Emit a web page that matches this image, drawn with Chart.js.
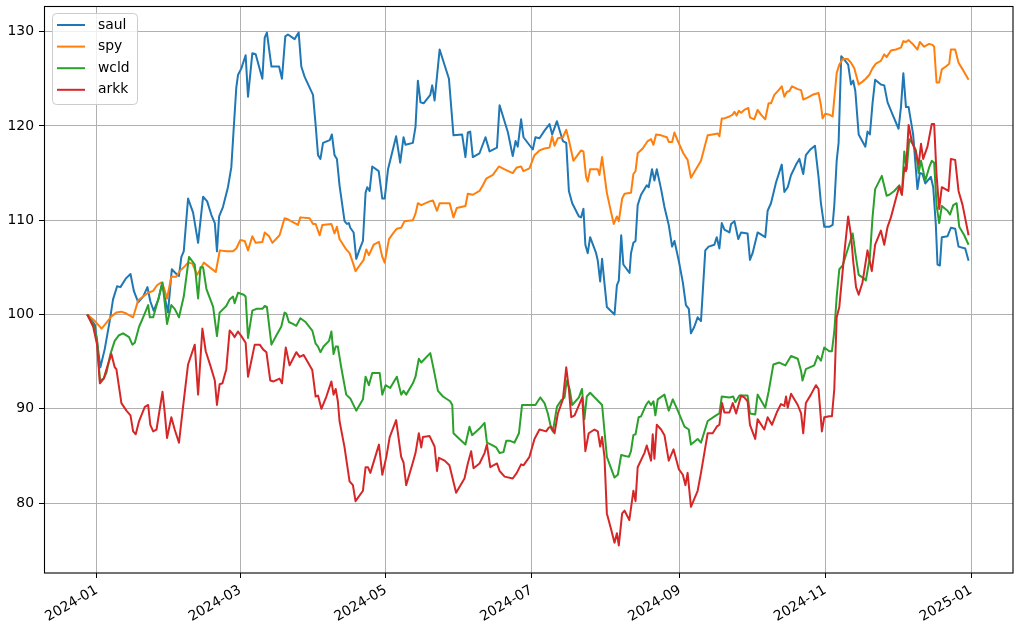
<!DOCTYPE html>
<html>
<head>
<meta charset="utf-8">
<script src="https://cdn.jsdelivr.net/npm/chart.js@4.4.1/dist/chart.umd.min.js"></script>
<style>
  html, body { margin: 0; padding: 0; background: #fff; }
  canvas { display: block; }
</style>
</head>
<body>
<canvas id="perfChart" width="1020" height="629"></canvas>
<script>
// x = days since 2024-01-01, y = value rebased to 100
const saul = [[-4,100.0],[-0.8,98.9],[1.5,94.4],[3.3,96.3],[5.4,99.3],[6.8,101.6],[8.5,103.0],[9.9,102.9],[12.1,103.8],[14.1,104.3],[15.5,102.5],[17.3,101.3],[19.4,101.9],[21.2,102.9],[22.4,101.4],[23.8,100.4],[25.8,101.6],[27.3,103.3],[28.4,101.9],[29.8,100.2],[31.4,104.8],[33.3,104.3],[34.4,104.1],[35.4,106.1],[36.4,106.7],[38.2,112.3],[40.3,110.8],[42.4,107.6],[44.5,112.5],[46.2,112.0],[47.9,110.6],[49.4,109.7],[50.3,106.7],[51.2,110.4],[52.8,111.4],[54.9,113.5],[56.3,115.6],[57.3,119.7],[58.4,124.1],[59.1,125.4],[60.5,126.1],[62.3,127.5],[63.3,123.1],[65.1,127.7],[66.5,127.6],[69.3,125.0],[70.3,129.4],[71.2,129.9],[73.1,126.3],[76.3,126.3],[77.5,125.0],[78.9,129.5],[80.0,129.7],[82.8,129.2],[83.5,129.5],[84.5,129.9],[85.6,126.3],[87.0,125.2],[90.5,123.3],[91.6,120.1],[92.6,116.9],[93.6,116.5],[94.7,118.2],[97.5,118.5],[98.4,119.1],[99.5,116.9],[100.5,116.5],[101.6,113.7],[103.7,109.9],[104.7,109.6],[105.5,109.7],[106.1,109.2],[107.5,108.7],[108.6,105.9],[110.0,106.9],[111.4,107.8],[112.5,112.9],[113.2,113.5],[114.2,113.1],[115.3,115.7],[118.0,115.2],[119.5,112.3],[120.5,112.3],[121.9,115.4],[125.3,118.9],[127.0,116.1],[128.4,118.8],[129.2,118.0],[132.3,118.2],[133.4,119.9],[134.4,124.8],[135.5,122.5],[136.8,122.4],[139.6,123.3],[140.4,124.3],[141.4,122.7],[143.5,128.1],[147.4,125.0],[149.3,119.0],[152.9,119.1],[154.3,116.7],[155.3,119.3],[156.3,119.4],[157.4,116.7],[160.2,117.1],[162.7,118.8],[164.4,117.3],[167.5,117.7],[168.6,122.2],[172.1,119.3],[174.1,116.8],[175.3,118.4],[176.2,117.8],[177.6,120.7],[178.6,118.8],[182.5,117.5],[183.6,118.8],[185.3,118.7],[187.4,119.5],[189.5,120.2],[190.6,119.1],[192.6,120.5],[194.0,119.3],[195.1,118.4],[196.5,118.2],[197.6,113.1],[199.0,111.8],[201.8,110.4],[202.7,110.3],[203.7,111.2],[204.5,107.4],[205.5,106.5],[206.5,108.2],[209.0,106.5],[209.7,105.7],[210.7,103.5],[211.5,105.9],[212.5,103.3],[213.5,100.8],[216.7,100.0],[217.7,103.1],[218.5,103.6],[219.5,108.4],[220.4,105.3],[223.0,104.4],[223.6,106.5],[224.6,107.6],[225.5,107.8],[226.4,111.6],[227.8,112.7],[230.2,113.7],[231.0,113.5],[232.4,115.4],[233.4,114.2],[234.4,115.4],[236.2,113.3],[237.6,111.4],[239.4,109.5],[240.8,107.2],[241.8,107.8],[243.6,105.7],[245.3,103.4],[246.6,101.0],[247.8,100.6],[248.7,98.0],[250.1,98.7],[251.5,99.7],[252.9,99.3],[254.7,106.8],[256.1,107.2],[258.5,107.4],[259.5,108.2],[260.6,107.0],[261.6,109.7],[262.7,109.0],[264.8,108.7],[265.5,109.6],[266.9,109.9],[268.5,108.0],[269.7,108.7],[272.4,108.6],[273.4,105.8],[274.5,106.5],[276.6,108.7],[279.8,108.2],[280.8,111.0],[282.2,111.8],[284.3,114.0],[286.7,115.9],[287.8,113.0],[289.2,113.5],[290.6,114.8],[292.7,115.9],[294.1,116.5],[295.7,114.9],[296.8,116.9],[298.7,117.5],[300.6,117.9],[302.1,114.6],[303.1,111.8],[304.5,109.3],[306.6,109.3],[308.0,109.5],[308.7,111.6],[309.7,116.3],[310.5,118.2],[311.6,127.4],[313.3,126.9],[314.5,126.5],[315.7,124.4],[316.6,124.8],[317.5,123.7],[318.9,119.1],[321.7,117.8],[322.6,119.4],[323.6,119.1],[324.7,122.4],[325.8,124.9],[328.2,124.4],[329.6,124.3],[331.0,122.5],[333.1,121.2],[335.6,119.7],[336.6,122.0],[337.6,125.6],[338.7,122.0],[339.8,122.0],[341.7,119.1],[343.5,113.3],[344.5,115.0],[345.6,114.9],[346.8,113.9],[349.1,114.6],[350.1,113.5],[351.2,109.5],[351.9,105.3],[352.9,105.2],[353.7,108.2],[356.1,108.3],[357.5,109.2],[359.3,109.1],[360.7,107.2],[363.5,107.0],[364.9,105.7]];

const spy = [[-4,100.0],[-0.8,99.3],[2.0,98.5],[4.0,99.1],[6.1,99.8],[8.2,100.2],[10.3,100.3],[12.4,100.1],[15.2,99.7],[17.3,101.5],[19.4,101.9],[21.5,102.3],[23.6,102.5],[25.2,103.1],[27.0,103.4],[28.0,102.9],[29.4,101.7],[31.2,104.0],[33.3,104.0],[34.7,104.6],[36.4,105.0],[38.2,105.5],[40.0,105.4],[42.0,104.2],[44.8,105.5],[47.3,105.0],[49.8,104.5],[51.5,106.8],[54.2,106.7],[57.0,106.7],[58.4,107.0],[60.1,107.9],[61.9,107.8],[63.3,106.8],[65.1,108.3],[66.5,107.6],[69.3,107.7],[70.3,108.7],[72.1,108.3],[73.5,107.6],[76.5,108.4],[78.6,110.2],[80.0,110.1],[84.2,109.5],[85.2,110.3],[89.1,110.2],[90.5,109.6],[91.6,109.6],[93.3,108.4],[94.4,109.5],[98.2,109.6],[99.5,108.6],[100.5,109.3],[101.6,108.0],[104.4,106.9],[105.8,106.5],[107.2,105.5],[108.3,104.6],[110.3,105.3],[111.7,105.8],[112.8,106.9],[113.9,106.3],[115.9,107.4],[118.1,107.7],[119.5,106.1],[120.5,105.5],[122.3,108.0],[124.0,108.6],[125.6,109.1],[127.4,109.2],[128.8,109.9],[132.3,110.0],[133.4,110.7],[134.4,111.8],[135.8,111.6],[139.3,112.0],[140.7,112.1],[142.4,111.0],[143.5,111.8],[147.7,111.8],[149.3,110.3],[150.7,111.3],[154.3,111.5],[155.3,112.8],[157.4,112.7],[160.2,113.1],[161.6,113.7],[163.0,114.4],[165.8,114.8],[168.3,115.7],[170.7,115.4],[174.1,115.0],[175.8,115.6],[177.6,115.7],[178.6,115.2],[181.1,115.5],[183.2,116.9],[185.3,117.4],[187.4,117.6],[189.5,117.7],[190.6,118.9],[191.6,117.9],[193.0,118.7],[195.1,118.8],[196.5,119.6],[197.6,118.5],[199.5,116.3],[202.7,117.4],[203.7,117.3],[204.8,114.6],[205.5,114.1],[206.5,115.4],[209.7,115.4],[210.4,114.8],[211.5,116.7],[213.5,112.9],[215.3,110.8],[216.4,109.6],[217.7,110.4],[218.5,109.9],[219.9,112.3],[220.9,112.8],[223.6,112.9],[224.6,114.9],[225.5,115.2],[226.4,117.1],[228.5,117.6],[230.6,118.4],[232.0,118.6],[233.0,118.0],[234.1,119.1],[236.2,119.0],[238.6,118.8],[239.4,118.3],[240.8,118.3],[241.8,119.3],[243.2,118.4],[245.5,117.1],[247.3,116.4],[248.7,114.5],[250.8,115.4],[252.9,116.3],[255.7,119.0],[257.8,119.1],[259.9,119.2],[260.6,118.9],[261.6,120.8],[262.7,120.8],[264.8,121.0],[266.2,121.2],[266.9,121.5],[267.8,121.1],[268.7,121.6],[269.7,121.4],[271.0,121.7],[272.7,121.9],[273.4,120.9],[275.2,120.7],[276.6,121.7],[278.0,121.2],[279.8,120.7],[281.2,122.4],[282.2,122.4],[283.6,123.3],[285.4,123.8],[286.7,124.2],[287.8,123.1],[288.8,123.6],[289.9,123.7],[291.0,124.2],[293.4,123.9],[294.8,123.8],[295.7,122.8],[297.5,123.0],[299.6,123.3],[302.1,123.5],[303.1,122.2],[303.8,120.8],[304.9,121.3],[306.6,121.2],[308.0,121.0],[309.7,125.6],[310.8,126.5],[312.2,127.1],[314.3,127.1],[315.7,126.7],[317.1,126.1],[318.9,124.4],[320.5,124.7],[321.9,125.0],[323.3,125.4],[324.7,126.1],[326.1,126.6],[328.2,126.9],[329.6,127.6],[330.6,127.3],[332.4,128.0],[334.5,128.1],[336.6,128.3],[337.6,129.0],[338.7,128.9],[339.8,129.1],[341.5,128.7],[343.5,128.1],[344.5,128.9],[346.3,128.4],[348.4,128.7],[349.8,128.6],[350.5,128.4],[351.5,124.6],[352.6,124.6],[353.7,126.0],[355.4,126.3],[356.8,126.6],[357.5,128.1],[359.3,128.1],[360.7,126.7],[362.4,126.0],[364.9,124.9]];

const wcld = [[-4,100.0],[-1.5,98.9],[0.1,97.4],[1.3,93.0],[2.9,93.2],[4.0,93.8],[5.7,95.8],[7.5,97.2],[9.3,97.8],[11.0,98.0],[13.5,97.6],[14.9,96.8],[15.9,97.0],[17.7,98.7],[19.4,99.7],[21.5,101.0],[22.2,99.7],[23.6,99.7],[25.7,101.6],[27.5,103.4],[29.4,99.0],[31.2,101.0],[32.6,100.6],[34.4,99.7],[36.4,101.9],[38.6,106.1],[41.0,105.3],[42.4,101.7],[43.4,105.0],[44.5,105.0],[45.9,102.7],[48.7,100.8],[50.3,97.7],[51.4,100.2],[54.2,100.9],[55.6,101.6],[57.0,101.9],[57.7,101.2],[59.1,102.3],[61.5,102.1],[62.3,101.9],[63.3,97.5],[65.1,100.4],[66.8,100.6],[69.3,100.6],[70.3,100.9],[71.2,100.8],[73.1,96.8],[75.2,97.8],[77.2,98.7],[78.6,100.2],[79.3,100.1],[80.4,99.2],[82.1,99.0],[83.5,98.8],[85.2,99.6],[87.4,99.2],[90.2,98.3],[91.6,96.9],[92.6,96.6],[93.6,96.0],[94.9,96.6],[97.2,97.2],[98.2,98.2],[99.1,95.8],[100.0,96.6],[100.9,96.6],[102.3,94.4],[104.4,91.5],[106.1,91.1],[108.6,89.8],[111.4,91.0],[112.5,93.4],[113.9,92.5],[115.3,93.8],[118.4,93.8],[119.5,91.5],[120.9,92.5],[122.8,92.2],[125.6,93.4],[127.4,91.5],[128.4,91.9],[129.5,91.5],[132.3,92.7],[133.4,93.4],[134.8,95.3],[135.8,94.9],[139.6,95.9],[141.0,94.2],[142.8,91.9],[144.9,91.3],[147.9,90.8],[148.8,90.4],[149.3,87.4],[151.8,86.8],[154.3,86.2],[156.0,88.1],[157.1,87.2],[160.2,87.9],[162.3,88.5],[163.3,86.4],[165.1,86.2],[167.2,85.9],[168.6,85.3],[170.2,85.4],[171.4,86.6],[173.0,86.6],[174.8,86.4],[176.7,87.4],[178.0,90.4],[180.4,90.4],[183.6,90.4],[185.6,91.2],[187.4,90.6],[188.8,89.5],[190.2,87.9],[190.9,87.6],[192.6,90.2],[194.4,90.9],[195.8,91.2],[196.7,93.0],[197.9,92.1],[199.0,90.4],[201.8,91.2],[203.1,92.1],[204.1,88.9],[205.1,91.3],[206.5,91.7],[211.5,90.4],[213.5,84.9],[216.7,82.7],[218.1,83.0],[219.5,85.1],[222.7,84.9],[223.6,85.5],[224.6,87.2],[225.5,87.3],[226.8,89.1],[227.8,89.2],[229.9,90.4],[231.0,90.8],[232.0,90.4],[233.0,90.8],[233.8,89.3],[234.8,91.0],[237.6,91.5],[239.4,89.8],[241.1,91.0],[243.2,89.8],[246.0,88.1],[247.8,87.8],[248.7,86.2],[251.5,86.8],[252.9,86.4],[255.7,88.7],[259.2,89.3],[260.6,89.5],[261.6,91.3],[264.8,91.2],[266.4,91.3],[267.3,90.7],[269.0,91.4],[272.4,91.4],[273.4,89.5],[275.6,89.4],[276.6,91.5],[279.8,90.1],[281.2,91.8],[283.2,94.7],[285.7,94.9],[288.2,94.6],[290.6,95.6],[293.4,95.3],[294.8,94.0],[295.4,93.0],[296.8,94.2],[300.3,94.6],[301.7,95.6],[303.1,95.1],[304.5,96.5],[306.6,96.1],[307.7,96.1],[308.7,98.2],[309.7,101.9],[310.8,104.8],[312.2,105.2],[314.3,106.9],[316.4,108.6],[317.5,106.5],[318.9,104.2],[321.2,103.8],[321.9,103.6],[323.6,106.1],[324.7,110.3],[325.8,113.3],[328.6,114.7],[330.6,112.6],[331.7,112.7],[333.8,113.1],[335.9,113.7],[337.0,112.7],[338.0,117.3],[339.0,115.4],[340.1,118.6],[341.5,118.1],[342.9,117.4],[344.0,115.0],[345.0,116.3],[346.8,114.2],[348.4,115.6],[349.5,116.3],[350.5,116.1],[351.5,111.6],[352.6,109.7],[353.7,111.5],[356.1,111.0],[357.1,110.6],[358.5,111.6],[359.9,111.8],[361.0,109.3],[363.1,108.4],[364.9,107.4]];

const arkk = [[-4,100.0],[-1.5,98.7],[0.1,96.8],[1.3,92.7],[2.9,93.2],[4.3,94.4],[6.1,95.8],[7.5,94.4],[8.2,94.2],[10.3,90.6],[12.4,89.8],[14.1,89.3],[15.2,87.6],[16.3,87.3],[17.7,88.7],[20.1,90.2],[21.5,90.4],[22.4,88.3],[23.6,87.6],[25.0,87.8],[27.5,91.8],[28.4,89.7],[29.4,86.9],[31.2,89.1],[32.6,87.8],[34.4,86.4],[36.1,90.2],[38.2,94.7],[41.0,96.8],[42.4,91.5],[44.2,98.5],[45.6,96.1],[47.5,94.6],[49.4,93.0],[50.3,90.4],[51.4,92.6],[52.6,92.7],[54.2,94.2],[55.6,98.3],[56.7,98.0],[57.7,97.6],[59.1,98.2],[60.5,97.7],[62.3,97.0],[63.3,93.4],[66.1,96.8],[68.2,96.8],[69.6,96.3],[71.0,96.0],[72.6,93.0],[74.0,92.9],[76.5,93.2],[77.5,92.7],[79.1,96.5],[80.7,94.6],[83.5,96.0],[84.9,95.5],[86.6,95.7],[90.2,94.1],[91.6,91.3],[92.6,91.4],[94.0,90.0],[96.1,91.3],[98.2,92.9],[99.1,91.5],[100.0,92.1],[100.9,90.8],[101.6,88.7],[103.7,85.9],[105.8,82.3],[107.2,81.9],[108.3,80.2],[111.4,81.3],[112.5,83.8],[113.5,83.8],[114.5,83.2],[118.1,86.2],[119.5,83.0],[121.2,84.9],[122.6,87.0],[125.3,88.8],[127.4,84.9],[128.4,84.3],[129.5,81.9],[132.3,84.3],[133.4,85.3],[134.8,87.4],[135.8,85.9],[136.5,87.0],[139.3,87.1],[141.4,86.0],[142.4,83.4],[143.2,84.8],[145.6,84.5],[147.6,84.0],[150.4,81.1],[153.9,82.6],[155.3,84.2],[156.7,85.5],[157.7,83.7],[160.2,84.2],[162.3,85.3],[163.3,86.2],[164.7,83.8],[167.5,84.2],[168.6,83.4],[170.7,82.8],[174.1,82.6],[175.8,83.2],[177.6,84.1],[178.6,84.0],[181.1,84.9],[183.2,86.8],[185.3,87.8],[188.1,87.6],[189.2,88.0],[190.2,88.1],[191.6,87.4],[193.0,89.5],[195.1,91.0],[196.5,94.4],[197.6,92.1],[198.6,89.1],[200.0,89.3],[203.2,91.2],[204.5,85.5],[205.9,87.4],[208.3,87.8],[209.7,87.6],[210.7,86.0],[211.5,87.0],[212.5,84.9],[213.5,78.9],[215.3,77.2],[216.7,75.8],[217.7,76.8],[218.5,75.5],[219.9,78.9],[220.9,79.2],[222.9,78.2],[224.6,81.3],[225.5,80.2],[226.4,83.8],[229.2,85.3],[230.2,86.1],[232.0,84.5],[232.7,87.3],[233.4,84.7],[234.4,88.3],[236.2,87.8],[237.6,87.2],[239.4,84.5],[241.4,85.7],[243.6,83.6],[245.3,83.0],[246.4,81.9],[247.3,83.2],[248.7,79.6],[251.5,81.3],[252.9,83.2],[255.7,87.4],[257.8,87.4],[259.5,88.1],[260.6,88.3],[261.7,90.6],[262.7,89.6],[264.8,89.6],[266.2,90.6],[267.6,89.5],[269.7,91.4],[271.0,91.2],[272.4,90.8],[273.4,88.3],[275.6,86.8],[276.6,88.9],[279.4,87.8],[280.8,89.1],[282.6,88.3],[284.6,89.6],[286.4,90.5],[287.8,90.3],[288.5,91.3],[289.2,90.1],[290.6,91.6],[293.4,90.4],[294.8,89.5],[295.7,87.4],[296.8,90.6],[298.9,91.5],[301.0,92.5],[302.1,92.1],[303.5,87.6],[304.5,89.1],[306.6,89.2],[307.7,89.2],[308.7,92.1],[309.7,99.7],[310.8,100.8],[312.9,106.5],[314.5,110.4],[315.7,108.4],[316.6,105.7],[317.8,102.9],[318.9,102.1],[320.5,103.4],[322.6,106.8],[324.4,104.6],[325.8,107.4],[328.2,108.9],[329.6,107.4],[331.0,109.3],[332.4,110.3],[334.5,112.3],[335.9,113.6],[337.0,112.7],[338.0,115.6],[338.7,115.2],[339.8,120.1],[341.2,118.3],[342.6,117.4],[344.0,115.9],[345.0,118.1],[345.9,116.5],[347.7,117.8],[349.5,120.2],[350.5,120.2],[351.5,114.8],[352.6,111.2],[353.7,113.5],[356.5,113.1],[357.5,116.5],[359.3,116.4],[360.7,113.1],[362.4,111.6],[364.9,108.4]];

const seriesNames = ['saul', 'spy', 'wcld', 'arkk'];
const seriesColors = ['#1f77b4', '#ff7f0e', '#2ca02c', '#d62728'];
const tickDays = [0, 60, 121, 182, 244, 305, 366];
const tickLabels = ['2024-01', '2024-03', '2024-05', '2024-07', '2024-09', '2024-11', '2025-01'];
const yTicks = [80, 90, 100, 110, 120, 130];

const FONT = { family: "'DejaVu Sans', sans-serif", size: 13.9 };

// axes frame (spines) drawn over the lines like matplotlib
const framePlugin = {
  id: 'frame',
  afterDatasetsDraw(chart) {
    const { ctx, chartArea: a } = chart;
    ctx.save();
    ctx.strokeStyle = '#000';
    ctx.lineWidth = 1.1;
    ctx.strokeRect(Math.round(a.left) + 0.5, Math.round(a.top) + 0.5,
                   Math.round(a.right - a.left) - 0.5, Math.round(a.bottom - a.top) - 0.5);
    ctx.restore();
  }
};

// boxed legend in the upper left corner of the plot
const legendPlugin = {
  id: 'boxLegend',
  afterDraw(chart) {
    const { ctx, chartArea: a } = chart;
    const x0 = a.left + 8, y0 = a.top + 7, w = 85, h = 91, r = 4;
    ctx.save();
    ctx.beginPath();
    ctx.roundRect(x0 + 0.5, y0 + 0.5, w, h, r);
    ctx.fillStyle = 'rgba(255,255,255,0.8)';
    ctx.fill();
    ctx.strokeStyle = '#cccccc';
    ctx.lineWidth = 1;
    ctx.stroke();
    ctx.font = FONT.size + 'px ' + FONT.family;
    ctx.textBaseline = 'middle';
    ctx.textAlign = 'left';
    seriesNames.forEach((name, i) => {
      const y = y0 + 12 + i * 21.6;
      ctx.beginPath();
      ctx.moveTo(x0 + 5, y);
      ctx.lineTo(x0 + 33, y);
      ctx.strokeStyle = seriesColors[i];
      ctx.lineWidth = 2;
      ctx.stroke();
      ctx.fillStyle = '#000';
      ctx.fillText(name, x0 + 46, y);
    });
    ctx.restore();
  }
};

const seriesData = [saul, spy, wcld, arkk];

new Chart(document.getElementById('perfChart'), {
  type: 'line',
  data: {
    datasets: seriesData.map((s, i) => ({
      label: seriesNames[i],
      data: s.map(p => ({ x: p[0], y: p[1] })),
      borderColor: seriesColors[i],
      backgroundColor: seriesColors[i],
      borderWidth: 2,
      borderJoinStyle: 'round',
      pointRadius: 0,
      fill: false,
      tension: 0,
      order: seriesData.length - i
    }))
  },
  options: {
    responsive: false,
    animation: false,
    devicePixelRatio: 1,
    layout: { padding: { top: 6, right: 7, left: 0, bottom: 0 } },
    plugins: { legend: { display: false }, tooltip: { enabled: false } },
    scales: {
      x: {
        type: 'linear',
        min: -22.1,
        max: 383.5,
        afterBuildTicks: axis => { axis.ticks = tickDays.map(v => ({ value: v })); },
        afterFit: axis => {
          axis.height = 56;
          axis.paddingLeft = 0;
          axis.paddingRight = 0;
        },
        ticks: {
          autoSkip: false,
          minRotation: 30,
          maxRotation: 30,
          padding: 4,
          color: '#000',
          font: FONT,
          callback: v => tickLabels[tickDays.indexOf(v)]
        },
        grid: { color: '#b0b0b0', lineWidth: 1, tickColor: '#000', tickLength: 5 },
        border: { display: false }
      },
      y: {
        min: 72.58,
        max: 132.72,
        afterBuildTicks: axis => { axis.ticks = yTicks.map(v => ({ value: v })); },
        afterFit: axis => {
          axis.width = 44;
          axis.paddingTop = 0;
          axis.paddingBottom = 0;
        },
        ticks: { padding: 5, color: '#000', font: FONT },
        grid: { color: '#b0b0b0', lineWidth: 1, tickColor: '#000', tickLength: 5 },
        border: { display: false }
      }
    }
  },
  plugins: [framePlugin, legendPlugin]
});
</script>
</body>
</html>
